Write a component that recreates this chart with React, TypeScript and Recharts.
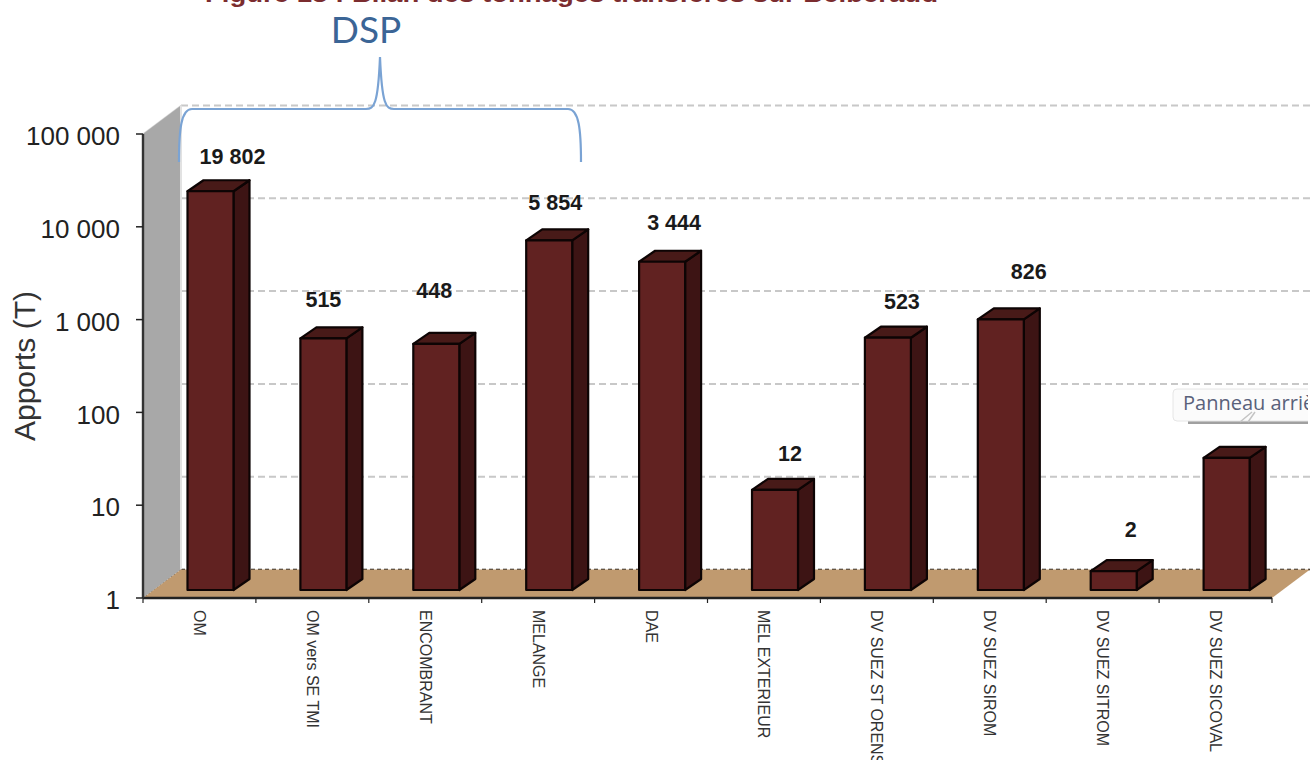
import React from 'react';
import { BarChart, Bar, XAxis, YAxis, CartesianGrid, LabelList, usePlotArea } from 'recharts';

const categories = ['OM', 'OM vers SE TMI', 'ENCOMBRANT', 'MELANGE', 'DAE', 'MEL EXTERIEUR', 'DV SUEZ ST ORENS', 'DV SUEZ SIROM', 'DV SUEZ SITROM', 'DV SUEZ SICOVAL'];
const apports = [19802, 515, 448, 5854, 3444, 12, 523, 826, 1.6, 26.5];
const valueLabels = ['19 802', '515', '448', '5 854', '3 444', '12', '523', '826', '2', ''];
const yTicks = [1, 10, 100, 1000, 10000, 100000];

// layout / style constants (not data)
const labelNudge: [number, number][] = [[22, -34], [0, -38], [-2, -53], [6, -37], [12, -39], [15, -36], [14, -36], [28, -47], [17, -41], [0, 0]];
const W = 1311, H = 760;
const PLOT = { top: 134, left: 143, right: 39, bottom: 162 };
const DEPTH_X = 38, DEPTH_Y = 28.5;
const BAND = (W - PLOT.left - PLOT.right) / categories.length;
const BAR_DX = 11.5, BAR_DY = 8, SIDE_X = 16, SIDE_Y = 11;
const FONT = '"Liberation Sans", Arial, sans-serif';

const rows = categories.map((name, i) => ({ name, apports: apports[i], label: valueLabels[i] }));

function Walls() {
  const p = usePlotArea();
  if (!p) return null;
  const { x, y, width, height } = p;
  const b = y + height;
  return (
    <g>
      <polygon points={`${x},${y} ${x + DEPTH_X},${y - DEPTH_Y} ${x + DEPTH_X},${b - DEPTH_Y} ${x},${b}`} fill="#a8a8a8" />
      <line x1={x + DEPTH_X} y1={y - DEPTH_Y} x2={x + DEPTH_X} y2={b - DEPTH_Y} stroke="#e2e2e2" strokeWidth={2} />
      <polygon points={`${x},${b} ${x + DEPTH_X},${b - DEPTH_Y} ${x + width + DEPTH_X},${b - DEPTH_Y} ${x + width},${b}`} fill="#c09a6f" />
    </g>
  );
}

function GridLine(props: any) {
  const { x1, x2, y1 } = props;
  const base = y1 > 590;
  return (
    <g key={`g${y1}`}>
      <line x1={x1} y1={y1} x2={x1 + DEPTH_X} y2={y1 - DEPTH_Y} stroke={base ? '#333' : '#d6d6d6'} strokeWidth={1.2} strokeDasharray={base ? '1.5 2' : undefined} />
      <line x1={x1 + DEPTH_X} y1={y1 - DEPTH_Y} x2={x2 + DEPTH_X} y2={y1 - DEPTH_Y} stroke={base ? '#111' : '#c8c8c8'} strokeWidth={base ? 1.6 : 2} strokeDasharray={base ? '4 3' : '7 4'} />
    </g>
  );
}

function Bar3D(props: any) {
  const { x, y, width, height } = props;
  const fx = x + BAR_DX, fy = y - BAR_DY, b = fy + height, r = fx + width;
  return (
    <g stroke="#0d0404" strokeWidth={2.2} strokeLinejoin="round">
      <polygon points={`${r},${fy} ${r + SIDE_X},${fy - SIDE_Y} ${r + SIDE_X},${b - SIDE_Y} ${r},${b}`} fill="#3d1414" />
      <polygon points={`${fx},${fy} ${fx + SIDE_X},${fy - SIDE_Y} ${r + SIDE_X},${fy - SIDE_Y} ${r},${fy}`} fill="#481a18" />
      <rect x={fx} y={fy} width={width} height={height} fill="#612221" />
    </g>
  );
}

function ValueLabel(props: any) {
  const { x, y, width, index, value } = props;
  const n = labelNudge[index] || [0, 0];
  return (
    <text x={x + BAR_DX + width / 2 + n[0]} y={y - BAR_DY + n[1]} textAnchor="middle" dominantBaseline="central" fontFamily={FONT} fontWeight="bold" fontSize={21.5} fill="#1a1a1a">
      {value}
    </text>
  );
}

function CatTick(props: any) {
  const { x, payload, index } = props;
  const left = x - BAND / 2, right = x + BAND / 2;
  const b = H - PLOT.bottom;
  return (
    <g>
      <line x1={left} y1={b} x2={left} y2={b + 5} stroke="#222" strokeWidth={1.2} />
      {index === categories.length - 1 && <line x1={right} y1={b} x2={right} y2={b + 5} stroke="#222" strokeWidth={1.2} />}
      <text x={x} y={610} transform={`rotate(90 ${x} 610)`} textAnchor="start" dominantBaseline="central" fontFamily={FONT} fontSize={16} fill="#333">
        {payload.value}
      </text>
    </g>
  );
}

const fmt = (v: number) => String(v).replace(/\B(?=(\d{3})+$)/g, ' ');

export default function App() {
  return (
    <div style={{ position: 'absolute', left: 0, top: 0, width: W, height: H, overflow: 'hidden', background: '#fff' }}>
      <BarChart width={W} height={H} data={rows} margin={{ top: PLOT.top, right: PLOT.right, left: 0, bottom: 0 }} barSize={46}>
        <Walls />
        <CartesianGrid vertical={false} horizontal={GridLine as any} />
        <XAxis dataKey="name" interval={0} height={PLOT.bottom} tick={CatTick as any} tickLine={false} axisLine={{ stroke: '#222', strokeWidth: 2.4 }} />
        <YAxis
          scale="log"
          domain={[1, 100000]}
          ticks={yTicks}
          allowDataOverflow
          width={PLOT.left}
          interval={0}
          tickFormatter={fmt}
          tickSize={7}
          tickMargin={16}
          tick={{ fontFamily: FONT, fontSize: 26, fill: '#222', dy: 2 }}
          tickLine={{ stroke: '#222', strokeWidth: 1.5 }}
          axisLine={{ stroke: '#333', strokeWidth: 2.4 }}
          label={{ value: 'Apports (T)', angle: -90, position: 'insideLeft', offset: 0, dx: 24, dy: 0, fontFamily: FONT, fontSize: 30, fill: '#333', style: { textAnchor: 'middle' } }}
        />
        <Bar dataKey="apports" isAnimationActive={false} shape={Bar3D as any} baseValue={1}>
          <LabelList dataKey="label" content={ValueLabel as any} />
        </Bar>
        <text x={205} y={2} textLength={733} lengthAdjust="spacingAndGlyphs" fontFamily={FONT} fontWeight="bold" fontSize={24} fill="#7b2c2f">
          Figure 18 : Bilan des tonnages transférés sur Bélberaud
        </text>
        <text x={366} y={43} textAnchor="middle" fontFamily="Lato, sans-serif" fontSize={37} fill="#3b6596">DSP</text>
        <path d="M179,162 C179,130 181,109 192,109 L366,109 C374,109 378,105 380,57 C382,105 386,109 394,109 L568,109 C579,109 581,130 581,162" fill="none" stroke="#7aa3d4" strokeWidth={2.2} />
        <g>
          <rect x={1188} y={420} width={130} height={4} fill="#a0a0a0" />
          <rect x={1173} y={389} width={150} height={32} rx={4} fill="#fbfbfb" stroke="#e6e6e6" />
          <text x={1183} y={410} fontFamily={'"Open Sans", sans-serif'} fontSize={20} fill="#59617a">Panneau arrière</text>
          <path d="M1240,422 L1252,412 M1248,422 L1255,412" stroke="#c4c4c4" strokeWidth={1.5} fill="none" />
          <rect x={1308} y={380} width={3} height={50} fill="#fff" />
        </g>
      </BarChart>
    </div>
  );
}
